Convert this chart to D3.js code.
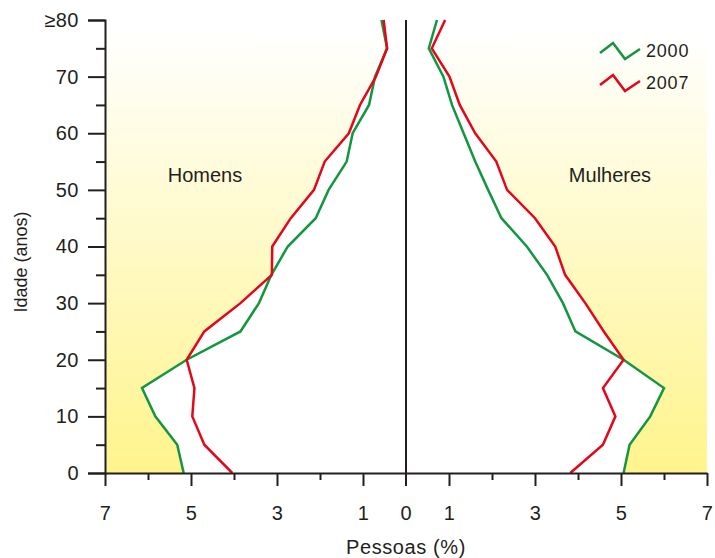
<!DOCTYPE html>
<html>
<head>
<meta charset="utf-8">
<script src="https://cdn.jsdelivr.net/npm/d3@7"></script>
<style>
  body { margin: 0; background: #fff; }
  svg text { font-family: "Liberation Sans", Arial, sans-serif; fill: #231f20; }
  .axis path, .axis line { stroke: #231f20; stroke-width: 2; }
  .axis text { font-size: 20px; letter-spacing: 0.5px; }
</style>
</head>
<body>
<div id="chart"></div>
<script>
// age groups (last one is 80 and over)
const AGES = [0, 5, 10, 15, 20, 25, 30, 35, 40, 45, 50, 55, 60, 65, 70, 75, 80];

// share of population (%) per age group
const MEN_2000   = [5.17, 5.32, 5.83, 6.14, 5.10, 3.85, 3.42, 3.13, 2.75, 2.10, 1.80, 1.38, 1.24, 0.86, 0.72, 0.44, 0.57];
const MEN_2007   = [4.04, 4.69, 4.97, 4.92, 5.10, 4.69, 3.85, 3.12, 3.11, 2.68, 2.14, 1.89, 1.33, 1.07, 0.70, 0.44, 0.52];
const WOMEN_2000 = [5.06, 5.20, 5.68, 6.00, 5.06, 3.94, 3.65, 3.28, 2.81, 2.22, 1.91, 1.61, 1.34, 1.07, 0.87, 0.53, 0.72];
const WOMEN_2007 = [3.82, 4.58, 4.87, 4.58, 5.06, 4.60, 4.17, 3.70, 3.47, 3.00, 2.35, 2.10, 1.61, 1.25, 1.01, 0.60, 0.91];

const YEARS = ["2000", "2007"];
const COLORS = { "2000": "#13963f", "2007": "#e3071b" };

const Y_TICKS = [0, 10, 20, 30, 40, 50, 60, 70, 80];
const Y_MINOR = [5, 15, 25, 35, 45, 55, 65, 75];
const X_TICKS = [1, 3, 5, 7];
const X_MINOR = [2, 4, 6];

const W = 715, H = 558;
const LEFT = 105, RIGHT = 707, CENTER = 406, TOP = 20, BOTTOM = 473;

const svg = d3.select("#chart").append("svg")
    .attr("width", W).attr("height", H);

const y = d3.scaleLinear().domain([0, 80]).range([BOTTOM, TOP]);
const xL = d3.scaleLinear().domain([0, 7]).range([CENTER, LEFT]);   // men
const xR = d3.scaleLinear().domain([0, 7]).range([CENTER, RIGHT]);  // women

// yellow background fading to white at the top
const grad = svg.append("defs").append("linearGradient")
    .attr("id", "bg").attr("x1", 0).attr("y1", 0).attr("x2", 0).attr("y2", 1);
grad.append("stop").attr("offset", "0%").attr("stop-color", "#ffffff");
grad.append("stop").attr("offset", "100%").attr("stop-color", "#fff48c");

svg.append("rect")
    .attr("x", LEFT).attr("y", TOP + 10)
    .attr("width", RIGHT - LEFT).attr("height", BOTTOM - TOP - 10)
    .attr("fill", "url(#bg)");

const panels = [
  { x: xL, series: { "2000": MEN_2000, "2007": MEN_2007 } },
  { x: xR, series: { "2000": WOMEN_2000, "2007": WOMEN_2007 } }
];

// white inside the pyramid (union of both years)
panels.forEach(p => {
  YEARS.forEach(yr => {
    const area = d3.area()
        .y((d, i) => y(AGES[i]))
        .x0(p.x(0))
        .x1(d => p.x(d));
    svg.append("path").datum(p.series[yr])
        .attr("d", area).attr("fill", "#fff").attr("stroke", "#fff").attr("stroke-width", 1);
  });
});

// lines
panels.forEach(p => {
  YEARS.forEach(yr => {
    const line = d3.line()
        .x(d => p.x(d))
        .y((d, i) => y(AGES[i]));
    svg.append("path").datum(p.series[yr])
        .attr("d", line)
        .attr("fill", "none")
        .attr("stroke", COLORS[yr])
        .attr("stroke-width", 2.5);
  });
});

// y axis
svg.append("g").attr("class", "axis")
    .attr("transform", `translate(${LEFT},0)`)
    .call(d3.axisLeft(y).tickValues(Y_TICKS).tickSize(17).tickPadding(9)
        .tickFormat(d => d === 80 ? "≥80" : d));
svg.append("g").attr("class", "axis")
    .attr("transform", `translate(${LEFT},0)`)
    .call(d3.axisLeft(y).tickValues(Y_MINOR).tickSize(9).tickFormat(""))
    .select(".domain").remove();

// x axes, one per side
[xL, xR].forEach(sc => {
  svg.append("g").attr("class", "axis")
      .attr("transform", `translate(0,${BOTTOM})`)
      .call(d3.axisBottom(sc).tickValues(X_TICKS).tickSize(13).tickPadding(20)
          .tickSizeOuter(0).tickFormat(d3.format("d")));
  svg.append("g").attr("class", "axis")
      .attr("transform", `translate(0,${BOTTOM})`)
      .call(d3.axisBottom(sc).tickValues(X_MINOR).tickSize(7).tickFormat(""))
      .select(".domain").remove();
});

// central axis (0)
svg.append("line")
    .attr("x1", xL(0)).attr("x2", xL(0))
    .attr("y1", TOP).attr("y2", BOTTOM + 13)
    .attr("stroke", "#231f20").attr("stroke-width", 2);
svg.append("text")
    .attr("x", xL(0)).attr("y", BOTTOM + 47)
    .attr("text-anchor", "middle").style("font-size", "20px")
    .text("0");

// axis titles
svg.append("text")
    .attr("x", CENTER).attr("y", 554)
    .attr("text-anchor", "middle").style("font-size", "20px").style("letter-spacing", "0.6px")
    .text("Pessoas (%)");
svg.append("text")
    .attr("transform", "translate(27,262) rotate(-90)")
    .attr("text-anchor", "middle").style("font-size", "18px")
    .text("Idade (anos)");

// panel labels
svg.append("text").attr("x", 205).attr("y", 182)
    .attr("text-anchor", "middle").style("font-size", "20px").text("Homens");
svg.append("text").attr("x", 610).attr("y", 182)
    .attr("text-anchor", "middle").style("font-size", "20px").text("Mulheres");

// legend with zigzag glyphs
const zig = [[0, 10], [13, 0], [25, 16], [40, 6]];
YEARS.forEach((yr, i) => {
  const g = svg.append("g").attr("transform", `translate(600,${43 + i * 32})`);
  g.append("path")
      .attr("d", d3.line()(zig))
      .attr("fill", "none").attr("stroke", COLORS[yr]).attr("stroke-width", 2.6);
  g.append("text").attr("x", 46).attr("y", 14)
      .style("font-size", "18px").style("letter-spacing", "0.8px").text(yr);
});
</script>
</body>
</html>
